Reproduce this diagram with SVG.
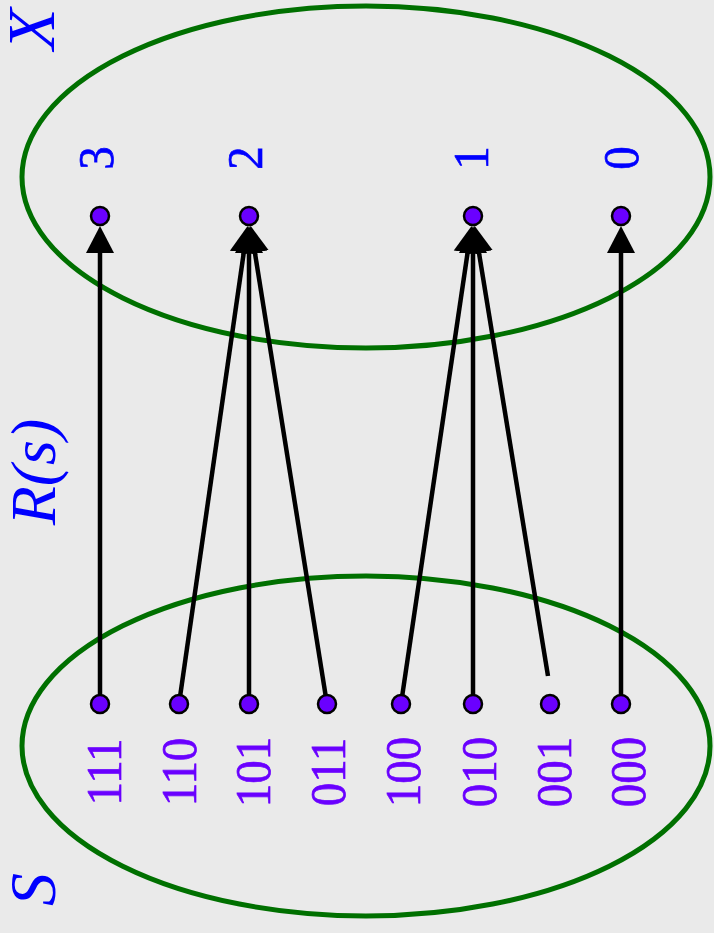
<svg xmlns="http://www.w3.org/2000/svg" width="714" height="933" viewBox="0 0 714 933">
  <style>
    .set { fill: none; stroke: #007000; stroke-width: 5; }
    .edge { stroke: #000; stroke-width: 4.5; fill: none; marker-end: url(#head); }
    .dot { fill: #6a00ff; stroke: #000; stroke-width: 2.5; }
    .num { font-family: "Liberation Serif", serif; font-size: 51px; text-anchor: middle; stroke-width: 0.7; }
    .elt { fill: #0000ff; stroke: #0000ff; }
    .bits { fill: #6a00ff; stroke: #6a00ff; }
    .name { font-family: "Liberation Serif", serif; font-style: italic; fill: #0000ff; }
  </style>
  <defs>
    <marker id="head" markerUnits="userSpaceOnUse" markerWidth="30" markerHeight="30" viewBox="0 -15 30 30" refX="15" refY="0" orient="auto">
      <path d="M0,-14 L27,0 L0,14 z" fill="#000"/>
    </marker>
  </defs>

  <rect width="714" height="933" fill="#eaeaea"/>

  <!-- sets -->
  <ellipse id="setX" class="set" cx="366" cy="177" rx="344" ry="171"/>
  <ellipse id="setS" class="set" cx="366" cy="746" rx="344" ry="170"/>

  <!-- set names -->
  <text class="name" font-size="68" transform="translate(54,50) rotate(-90)">X</text>
  <text class="name" font-size="64" text-anchor="middle" transform="translate(55,472) rotate(-90)">R(s)</text>
  <text class="name" font-size="66" transform="translate(55,906) rotate(-90)">S</text>

  <!-- connectors -->
  <g id="connectors">
    <line class="edge" x1="100" y1="704" x2="100" y2="238"/>
    <line class="edge" x1="179" y1="704" x2="245.9" y2="237.8"/>
    <line class="edge" x1="249" y1="704" x2="249" y2="238"/>
    <line class="edge" x1="327" y1="704" x2="252.5" y2="237.7"/>
    <line class="edge" x1="401" y1="704" x2="469.8" y2="237.8"/>
    <line class="edge" x1="473" y1="704" x2="473" y2="238"/>
    <line class="edge" x1="548" y1="676" x2="476.5" y2="237.7"/>
    <line class="edge" x1="621" y1="704" x2="621" y2="238"/>
  </g>

  <!-- elements of X -->
  <g id="x3"><circle class="dot" cx="100" cy="216" r="9"/><text class="num elt" transform="translate(113,158) rotate(-90) scale(0.92,1)">3</text></g>
  <g id="x2"><circle class="dot" cx="249" cy="216" r="9"/><text class="num elt" transform="translate(262,158) rotate(-90) scale(0.92,1)">2</text></g>
  <g id="x1"><circle class="dot" cx="473" cy="216" r="9"/><text class="num elt" transform="translate(488,158) rotate(-90) scale(0.92,1)">1</text></g>
  <g id="x0"><circle class="dot" cx="621" cy="216" r="9"/><text class="num elt" transform="translate(638,158) rotate(-90) scale(0.92,1)">0</text></g>

  <!-- elements of S -->
  <g id="s111"><circle class="dot" cx="100" cy="704" r="9"/><text class="num bits" transform="translate(121,772) rotate(-90) scale(0.92,1)">111</text></g>
  <g id="s110"><circle class="dot" cx="179" cy="704" r="9"/><text class="num bits" transform="translate(196,772) rotate(-90) scale(0.92,1)">110</text></g>
  <g id="s101"><circle class="dot" cx="249" cy="704" r="9"/><text class="num bits" transform="translate(270,772) rotate(-90) scale(0.92,1)">101</text></g>
  <g id="s011"><circle class="dot" cx="327" cy="704" r="9"/><text class="num bits" transform="translate(345,772) rotate(-90) scale(0.92,1)">011</text></g>
  <g id="s100"><circle class="dot" cx="401" cy="704" r="9"/><text class="num bits" transform="translate(420,772) rotate(-90) scale(0.92,1)">100</text></g>
  <g id="s010"><circle class="dot" cx="473" cy="704" r="9"/><text class="num bits" transform="translate(496,772) rotate(-90) scale(0.92,1)">010</text></g>
  <g id="s001"><circle class="dot" cx="550" cy="704" r="9"/><text class="num bits" transform="translate(571,772) rotate(-90) scale(0.92,1)">001</text></g>
  <g id="s000"><circle class="dot" cx="621" cy="704" r="9"/><text class="num bits" transform="translate(645,772) rotate(-90) scale(0.92,1)">000</text></g>
</svg>
